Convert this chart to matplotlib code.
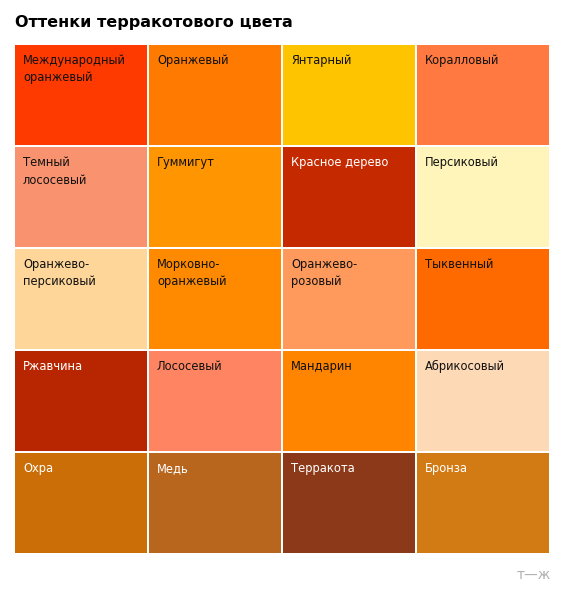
import matplotlib.pyplot as plt
from matplotlib.patches import Rectangle

names = ["Международный\nоранжевый", "Оранжевый", "Янтарный", "Коралловый",
         "Темный\nлососевый", "Гуммигут", "Красное дерево", "Персиковый",
         "Оранжево-\nперсиковый", "Морковно-\nоранжевый", "Оранжево-\nрозовый", "Тыквенный",
         "Ржавчина", "Лососевый", "Мандарин", "Абрикосовый",
         "Охра", "Медь", "Терракота", "Бронза"]
colors = ["#FF3A00", "#FF7A00", "#FFC400", "#FF7940",
          "#F9926F", "#FF9500", "#C42900", "#FFF5BA",
          "#FFD699", "#FF8A00", "#FF9A5C", "#FF6A00",
          "#B72600", "#FF8562", "#FF8400", "#FDD9B5",
          "#CC6E08", "#B8661D", "#8B3918", "#D27B15"]
light_text = {"Красное дерево", "Ржавчина", "Охра", "Медь", "Терракота", "Бронза"}

W, H = 567, 600
fig = plt.figure(figsize=(W / 100, H / 100), dpi=100)
ax = fig.add_axes([0, 0, 1, 1])
ax.set_xlim(0, W)
ax.set_ylim(H, 0)
ax.axis("off")

x0, y0, cw, ch = 15, 45, 134, 102
for i, (name, c) in enumerate(zip(names, colors)):
    r, k = divmod(i, 4)
    x, y = x0 + k * cw, y0 + r * ch
    ax.add_patch(Rectangle((x, y), cw - 2, ch - 2, color=c, lw=0))
    ax.text(x + 8, y + 9, name, va="top", ha="left", fontsize=8.3,
            color="white" if name in light_text else "#111111", linespacing=1.45)

ax.text(15, 23, "Оттенки терракотового цвета", fontsize=11.5, fontweight="bold",
        va="center", ha="left")
ax.text(551, 575, "т—ж", fontsize=10, color="#B0B0B0", va="center", ha="right")

fig.savefig("out.png", dpi=100)
